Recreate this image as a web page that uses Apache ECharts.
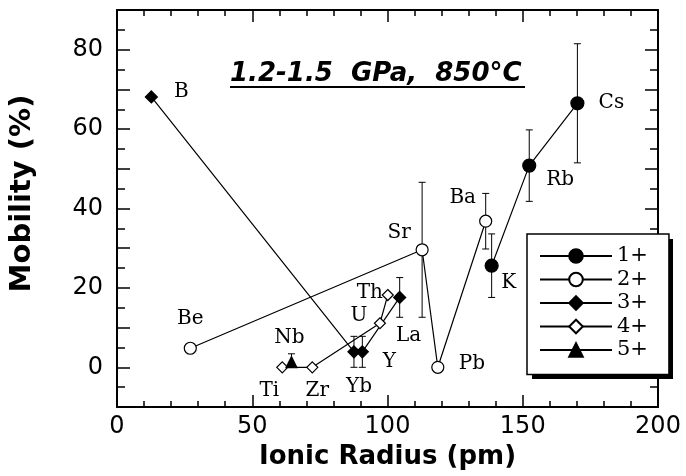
<!DOCTYPE html>
<html><head><meta charset="utf-8">
<script src="https://cdn.jsdelivr.net/npm/echarts@6/dist/echarts.min.js"></script>
<style>html,body{margin:0;padding:0;background:#fff}#c{width:686px;height:476px}</style>
</head><body><div id="c"></div>
<script>
// ---- data ----
const xTicks = [0, 50, 100, 150, 200];
const yTicks = [0, 20, 40, 60, 80];
const groupNames = ['1+', '2+', '3+', '4+', '5+'];
const titleText = '1.2-1.5  GPa,  850°C';

const ions1 = ['K', 'Rb', 'Cs'];
const radius1 = [138.5, 152.4, 170.2];
const mobility1 = [25.6, 50.8, 66.5];
const errLo1 = [8, 9, 15];
const errHi1 = [8, 9, 15];

const ions2 = ['Be', 'Sr', 'Pb', 'Ba'];
const radius2 = [27.1, 112.8, 118.6, 136.3];
const mobility2 = [4.8, 29.6, 0, 36.8];
const errLo2 = [null, 17, null, 7];
const errHi2 = [null, 17, null, 7];

const ions3 = ['B', 'Yb', 'Y', 'La'];
const radius3 = [12.7, 87.6, 90.7, 104.5];
const mobility3 = [68.1, 3.9, 3.9, 17.6];
const errLo3 = [null, 3.9, 3.9, 5];
const errHi3 = [null, 3.9, 3.9, 5];

const ions4 = ['Ti', 'Zr', 'U', 'Th'];
const radius4 = [61.1, 72.2, 97.2, 100.1];
const mobility4 = [0, 0, 11.1, 18.2];

const ions5 = ['Nb'];
const radius5 = [64.5];
const mobility5 = [1.3];
const errLo5 = [1.3];
const errHi5 = [2.1];

// ---- label placement (pixel offsets from marker) ----
const labelOffsets = {
  B: [30, -5], Be: [0, -29], Ti: [-13, 23], Nb: [-2, -24], Zr: [5, 23],
  Yb: [5, 35], Y: [27, 10], U: [-21, -7], Th: [-18, -2], La: [9, 38],
  Sr: [-23, -17], Pb: [34, -4], Ba: [-23, -23], K: [17, 17], Rb: [31, 14], Cs: [34, 0]
};

// legend box geometry (layout only)
const legendBox = {left: 527, top: 234, width: 141, height: 140, shadow: 5};

const chart = echarts.init(document.getElementById('c'), null, {renderer: 'canvas'});

function lineSeries(name, ions, xs, ys, symbol, size, filled) {
  return {
    type: 'line', name: name, symbol: symbol, symbolSize: size,
    xAxisIndex: 0, yAxisIndex: 0,
    data: ions.map((n, i) => ({name: n, value: [xs[i], ys[i]], label: {offset: labelOffsets[n]}})),
    lineStyle: {color: '#000', width: 1.2},
    itemStyle: {color: filled ? '#000' : '#fff', borderColor: '#000', borderWidth: 1.2},
    label: {show: true, position: 'inside', formatter: '{b}', fontFamily: 'DejaVu Serif', fontSize: 20, color: '#000'},
    z: 3, animation: false, emphasis: {disabled: true}
  };
}

function errData(xs, ys, lo, hi) {
  const out = [];
  xs.forEach((x, i) => { if (lo[i] != null) out.push([x, ys[i] - lo[i], ys[i] + hi[i]]); });
  return out;
}

const errAll = [].concat(
  errData(radius1, mobility1, errLo1, errHi1),
  errData(radius2, mobility2, errLo2, errHi2),
  errData(radius3, mobility3, errLo3, errHi3),
  errData(radius5, mobility5, errLo5, errHi5)
);

const tickStyle = {color: '#000', width: 1.5};
const axisLineStyle = {color: '#000', width: 2};
const labelFont = {fontFamily: 'DejaVu Sans', fontSize: 24, color: '#000'};
const nameFont = {fontFamily: 'DejaVu Sans', fontWeight: 'bold', color: '#000'};

function xAx(pos, showLabel) {
  return {
    type: 'value', min: xTicks[0], max: xTicks[xTicks.length - 1], interval: xTicks[1] - xTicks[0], position: pos,
    axisLine: {show: true, onZero: false, lineStyle: axisLineStyle},
    axisTick: {show: true, inside: true, length: 12, lineStyle: tickStyle},
    minorTick: {show: true, splitNumber: 5, length: 6, lineStyle: tickStyle},
    splitLine: {show: false}, minorSplitLine: {show: false},
    axisLabel: Object.assign({show: showLabel, margin: 8}, labelFont),
    name: showLabel ? 'Ionic Radius (pm)' : '', nameLocation: 'middle', nameGap: 34,
    nameTextStyle: Object.assign({fontSize: 26}, nameFont)
  };
}
function yAx(pos, showLabel) {
  return {
    type: 'value', min: -10, max: 90, interval: 10, position: pos,
    axisLine: {show: true, onZero: false, lineStyle: axisLineStyle},
    axisTick: {show: true, inside: true, length: 13, lineStyle: tickStyle},
    minorTick: {show: true, splitNumber: 2, length: 8, lineStyle: tickStyle},
    splitLine: {show: false}, minorSplitLine: {show: false},
    axisLabel: Object.assign({show: showLabel, margin: 14,
      formatter: v => (yTicks.indexOf(v) >= 0 ? String(v) : '')}, labelFont),
    name: showLabel ? 'Mobility (%)' : '', nameLocation: 'middle', nameGap: 80,
    nameTextStyle: Object.assign({fontSize: 29, padding: [0, 0, 0, 30]}, nameFont)
  };
}

chart.setOption({
  animation: false,
  backgroundColor: '#fff',
  grid: {left: 116, right: 28, top: 10, bottom: 69, containLabel: false},
  title: {
    text: titleText, left: 230, top: 61, padding: 0,
    textStyle: {fontFamily: 'DejaVu Sans', fontStyle: 'italic', fontWeight: 'bold', fontSize: 26, color: '#000'}
  },
  graphic: [
    {type: 'line', shape: {x1: 230, y1: 87, x2: 525, y2: 87}, style: {stroke: '#000', lineWidth: 2}, z: 5},
    {type: 'rect', shape: {x: legendBox.left + legendBox.shadow, y: legendBox.top + legendBox.shadow,
      width: legendBox.width, height: legendBox.height}, style: {fill: '#000'}, z: 8}
  ],
  legend: {
    orient: 'vertical', left: legendBox.left, top: legendBox.top, data: groupNames,
    itemWidth: 72, itemHeight: 17, itemGap: 2.5, padding: [11.5, 21, 14, 12],
    backgroundColor: '#fff', borderColor: '#000', borderWidth: 1.5,
    textStyle: {fontFamily: 'DejaVu Serif', fontSize: 21, color: '#000'},
    selectedMode: false, z: 10
  },
  xAxis: [xAx('bottom', true), xAx('top', false)],
  yAxis: [yAx('left', true), yAx('right', false)],
  series: [
    {
      type: 'custom', name: 'error', xAxisIndex: 0, yAxisIndex: 0, z: 2, animation: false,
      data: errAll,
      renderItem: function (params, api) {
        const x = api.value(0), lo = api.value(1), hi = api.value(2);
        const p1 = api.coord([x, lo]), p2 = api.coord([x, hi]);
        const w = 3.5;
        const st = {stroke: '#000', lineWidth: 1};
        return {type: 'group', children: [
          {type: 'line', shape: {x1: p1[0], y1: p1[1], x2: p2[0], y2: p2[1]}, style: st},
          {type: 'line', shape: {x1: p1[0] - w, y1: p1[1], x2: p1[0] + w, y2: p1[1]}, style: st},
          {type: 'line', shape: {x1: p2[0] - w, y1: p2[1], x2: p2[0] + w, y2: p2[1]}, style: st}
        ]};
      }
    },
    lineSeries(groupNames[0], ions1, radius1, mobility1, 'circle', 13, true),
    lineSeries(groupNames[1], ions2, radius2, mobility2, 'circle', 12, false),
    lineSeries(groupNames[2], ions3, radius3, mobility3, 'diamond', 12, true),
    lineSeries(groupNames[3], ions4, radius4, mobility4, 'diamond', 11, false),
    lineSeries(groupNames[4], ions5, radius5, mobility5, 'triangle', 11, true)
  ]
});
</script>
</body></html>
